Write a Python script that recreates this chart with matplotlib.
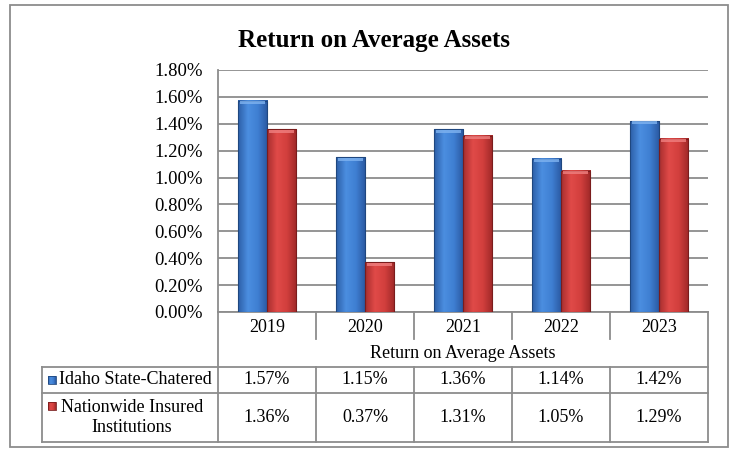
import numpy as np
import matplotlib
matplotlib.use("Agg")
import matplotlib.pyplot as plt
from matplotlib.colors import LinearSegmentedColormap
from matplotlib.patches import Rectangle

years = ["2019", "2020", "2021", "2022", "2023"]
idaho = [1.57, 1.15, 1.36, 1.14, 1.42]
nation = [1.36, 0.37, 1.31, 1.05, 1.29]
series_names = ["Idaho State-Chatered", "Nationwide Insured\nInstitutions"]
title = "Return on Average Assets"
yticks = [0.0, 0.2, 0.4, 0.6, 0.8, 1.0, 1.2, 1.4, 1.6, 1.8]

plt.rcParams['font.family'] = ['Liberation Serif', 'DejaVu Serif']
fs = 13

W, H = 735, 450
fig = plt.figure(figsize=(W / 100, H / 100), dpi=100)

# layout in pixels
px_left, px_right, px_top, px_base = 218, 708, 70, 312

# background layer in pixel coords for border + table
bg = fig.add_axes([0, 0, 1, 1])
bg.set_xlim(0, W)
bg.set_ylim(H, 0)
bg.axis('off')

ax = fig.add_axes([px_left / W, 1 - px_base / H, (px_right - px_left) / W, (px_base - px_top) / H])
ax.patch.set_alpha(0)

blue_cm = LinearSegmentedColormap.from_list("b", ["#2d5fa8", "#4b8ee0", "#3f7fd2", "#2a58a0"])
red_cm = LinearSegmentedColormap.from_list("r", ["#a82e2e", "#e04a48", "#d23f3d", "#9e2828"])
grad = np.linspace(0, 1, 64).reshape(1, -1)

x = np.arange(len(years))
bw = 0.296
for vals, cm, off, edge, top in [(idaho, blue_cm, -bw / 2, "#1f477f", "#7fb3f0"),
                                 (nation, red_cm, bw / 2, "#7a1c1c", "#f08080")]:
    for xi, v in zip(x, vals):
        x0 = xi + off - bw / 2
        ax.imshow(grad, cmap=cm, extent=(x0, x0 + bw, 0, v), aspect='auto', zorder=3)
        ax.add_patch(Rectangle((x0, 0), bw, v, fill=False, edgecolor=edge, lw=0.8, zorder=4))
        ax.add_patch(Rectangle((x0 + 0.02, v - 0.025), bw - 0.04, 0.022, facecolor=top,
                               edgecolor='none', alpha=0.8, zorder=4))

ax.set_xlim(-0.5, len(years) - 0.5)
ax.set_ylim(0, 1.8)
ax.set_yticks(yticks)
ax.set_yticklabels(["%.2f%%" % t for t in yticks], fontsize=13.5)
ax.tick_params(axis='y', length=0, pad=11)
ax.set_xticks([])
ax.grid(axis='y', color='#8c8c8c', lw=1.3, zorder=1)
for s in ['top', 'right', 'bottom']:
    ax.spines[s].set_visible(False)
ax.spines['left'].set_color('#8c8c8c')
ax.spines['left'].set_linewidth(1.3)

fig.text(374 / W, 1 - 41 / H, title, ha='center', va='center', fontsize=18, fontweight='bold')

# outer border
bg.add_patch(Rectangle((10, 5), 718, 442, fill=False, edgecolor='#8c8c8c', lw=1.3))

# data table
lc = dict(color='#8c8c8c', lw=1.3)
cw = (px_right - px_left) / len(years)
row_top, row_lab, row_a, row_b, row_end = px_base, 339, 367, 393, 442
tab_left = 42
bg.plot([px_left, px_left], [row_top, row_end], **lc)
bg.plot([px_right, px_right], [row_top, row_end], **lc)
bg.plot([px_left, px_right], [row_top, row_top], **lc)
for i in range(1, len(years)):
    xs = px_left + cw * i
    bg.plot([xs, xs], [row_top, row_lab], **lc)
    bg.plot([xs, xs], [row_a, row_end], **lc)
for yy in [row_a, row_b, row_end]:
    bg.plot([tab_left, px_right], [yy, yy], **lc)
bg.plot([tab_left, tab_left], [row_a, row_end], **lc)

for i, yr in enumerate(years):
    cx = px_left + cw * (i + 0.5)
    bg.text(cx, 327, yr, ha='center', va='center', fontsize=fs)
    bg.text(cx, (row_a + row_b) / 2, "%.2f%%" % idaho[i], ha='center', va='center', fontsize=fs)
    bg.text(cx, (row_b + row_end) / 2, "%.2f%%" % nation[i], ha='center', va='center', fontsize=fs)
bg.text((px_left + px_right) / 2, 354, title, ha='center', va='center', fontsize=fs)

# legend keys
for (yc, cm, edge) in [((row_a + row_b) / 2, blue_cm, "#1f477f"), (406, red_cm, "#7a1c1c")]:
    bg.imshow(grad, cmap=cm, extent=(48, 56, yc + 4, yc - 4), aspect='auto')
    bg.add_patch(Rectangle((48, yc - 4), 8, 8, fill=False, edgecolor=edge, lw=0.6))
bg.text(59, (row_a + row_b) / 2, series_names[0], ha='left', va='center', fontsize=fs)
bg.text(132, (row_b + row_end) / 2, series_names[1], ha='center', va='center', fontsize=fs,
        multialignment='center', linespacing=1.3)
bg.set_xlim(0, W)
bg.set_ylim(H, 0)

fig.savefig("out.png", dpi=100)
